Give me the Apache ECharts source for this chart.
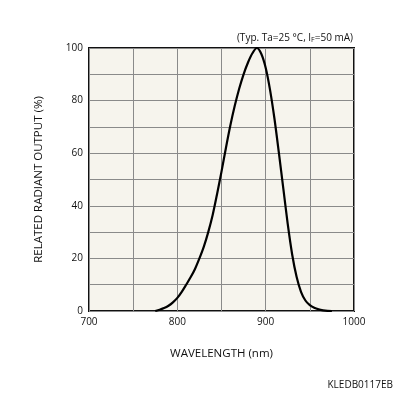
<!DOCTYPE html>
<html>
<head>
<meta charset="utf-8">
<script src="https://cdn.jsdelivr.net/npm/echarts@6/dist/echarts.min.js"></script>
<style>
  html, body { margin: 0; padding: 0; background: #fff; }
  #chart { width: 396px; height: 396px; }
</style>
</head>
<body>
<div id="chart"></div>
<script>
// spectrum, every 5 nm
const wavelengths = [775, 780, 785, 790, 795, 800, 805, 810, 815, 820, 825, 830, 835, 840, 845,
                     850, 855, 860, 865, 870, 875, 880, 885, 890, 895, 900, 905, 910, 915, 920,
                     925, 930, 935, 940, 945, 950, 955, 960, 965, 970, 975];
const outputs = [0, 0.5, 1.1, 2, 3.3, 5, 7.3, 10, 12.8, 16, 20, 24.5, 30, 36.5, 44.5,
                 53, 62, 70.5, 78, 84.5, 90, 94.5, 98, 100, 97.8, 92.5, 84, 73, 60, 46.5,
                 33, 21.5, 13, 7.3, 4, 2.2, 1.2, 0.6, 0.25, 0.05, 0];
const xTicks = [700, 800, 900, 1000];
const yTicks = [0, 20, 40, 60, 80, 100];

const font = '"Open Sans", "DejaVu Sans", sans-serif';

let chart = echarts.init(document.getElementById('chart'));

chart.setOption({
    animation: false,
    textStyle: { fontFamily: font },
    grid: {
        left: 89, right: 42, top: 48, bottom: 85,
        show: true,
        backgroundColor: '#f6f4ed',
        borderColor: '#111',
        borderWidth: 2
    },
    graphic: [
        {
            type: 'text', right: 43, top: 33,
            style: {
                text: '(Typ. Ta=25 °C, I{s|F}=50 mA)',
                rich: { s: { fontSize: 7, fontFamily: font, padding: [3, 0, 0, 0] } },
                fontSize: 10, fontFamily: font, fill: '#111'
            }
        },
        {
            type: 'text', right: 3, top: 380,
            style: { text: 'KLEDB0117EB', fontSize: 10, fontFamily: font, fill: '#111' }
        }
    ],
    xAxis: {
        type: 'value', min: 700, max: 1000, interval: 50,
        name: 'WAVELENGTH (nm)', nameLocation: 'middle', nameGap: 37,
        nameTextStyle: { fontSize: 11.5, color: '#111' },
        axisLine: { show: false },
        axisTick: { show: false },
        splitLine: { lineStyle: { color: '#8a8a8a', width: 1 } },
        axisLabel: {
            fontSize: 10, color: '#111', margin: 6,
            formatter: v => xTicks.includes(v) ? String(v) : ''
        }
    },
    yAxis: {
        type: 'value', min: 0, max: 100, interval: 10,
        name: 'RELATED RADIANT OUTPUT (%)', nameLocation: 'middle', nameGap: 44,
        nameTextStyle: { fontSize: 11.5, color: '#111' },
        axisLine: { show: false },
        axisTick: { show: false },
        splitLine: { lineStyle: { color: '#8a8a8a', width: 1 } },
        axisLabel: {
            fontSize: 10, color: '#111', margin: 6,
            formatter: v => yTicks.includes(v) ? String(v) : ''
        }
    },
    series: [{
        type: 'line',
        data: wavelengths.map((w, i) => [w, outputs[i]]),
        smooth: 0.3,
        showSymbol: false,
        lineStyle: { color: '#000', width: 2.2 }
    }]
});
</script>
</body>
</html>
